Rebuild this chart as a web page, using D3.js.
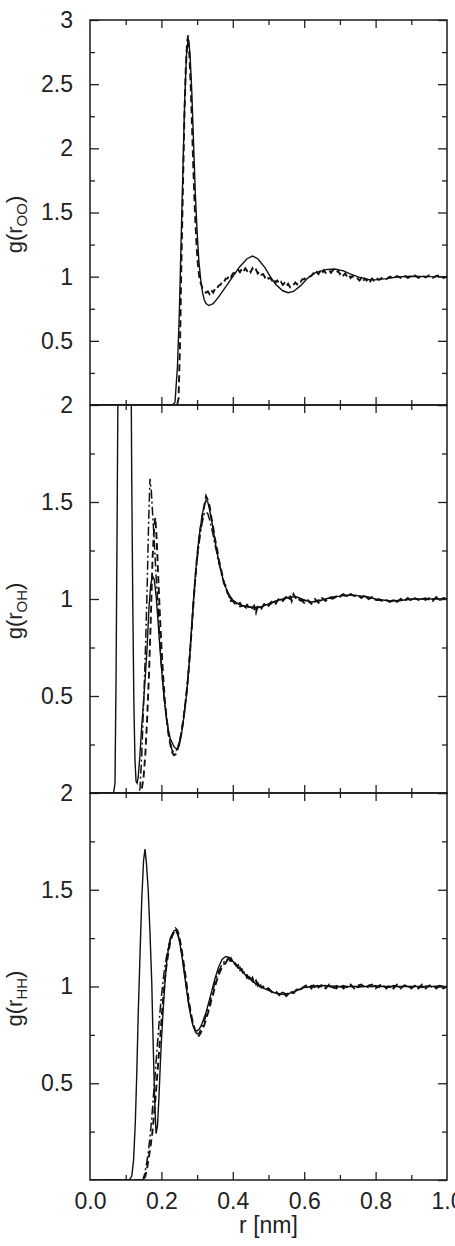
<!DOCTYPE html>
<meta charset="utf-8">
<style>
    body { margin: 0; background: #fff; }
    svg text { font-family: "Liberation Sans", Arial, sans-serif; fill: #222; }
    .tick line { stroke: #222; stroke-width: 1.3; }
    .curve { fill: none; stroke: #111; }
</style>
<svg width="455" height="1246"></svg>
<script src="https://d3js.org/d3.v7.min.js"></script>
<script>

    // x ticks
    var xMajor = [0, 0.2, 0.4, 0.6, 0.8, 1.0],
        xMinor = [0.1, 0.3, 0.5, 0.7, 0.9];

    // y tick labels per panel
    var ooLabels = [0.5, 1, 1.5, 2, 2.5, 3],
        ohLabels = [0.5, 1, 1.5, 2],
        hhLabels = [0.5, 1, 1.5, 2];

    // g(r_OO)
    var ooSolid = [[0.0,0],[0.23,0],[0.238,0.02],[0.245,0.3],[0.25,0.7],[0.255,1.25],[0.26,1.8],
        [0.265,2.35],[0.27,2.72],[0.275,2.86],[0.28,2.74],[0.285,2.45],[0.29,2.05],[0.295,1.65],
        [0.30,1.35],[0.305,1.12],[0.31,0.98],[0.315,0.88],[0.32,0.82],[0.325,0.79],[0.333,0.775],
        [0.345,0.79],[0.36,0.84],[0.38,0.92],[0.40,1.0],[0.42,1.08],[0.44,1.14],[0.455,1.16],
        [0.47,1.14],[0.49,1.07],[0.505,1.0],[0.52,0.94],[0.54,0.89],[0.555,0.875],[0.57,0.885],
        [0.59,0.93],[0.61,0.99],[0.63,1.03],[0.66,1.055],[0.685,1.06],[0.71,1.045],[0.73,1.02],
        [0.755,0.995],[0.78,0.978],[0.80,0.975],[0.83,0.985],[0.86,0.997],[0.9,1.003],[0.95,1.0],[1.0,1.0]];

    var ooDashed = [[0.0,0],[0.244,0],[0.248,0.05],[0.252,0.45],[0.256,1.1],[0.26,1.65],[0.264,2.2],
        [0.268,2.6],[0.272,2.83],[0.275,2.88],[0.278,2.75],[0.282,2.5],[0.286,2.15],[0.29,1.8],
        [0.294,1.5],[0.298,1.27],[0.302,1.1],[0.306,1.0],[0.31,0.95],[0.315,0.91],[0.32,0.89],
        [0.325,0.875],[0.33,0.885],[0.335,0.865],[0.34,0.895],[0.345,0.875],[0.35,0.905],[0.355,0.9],
        [0.36,0.93],[0.365,0.935],[0.37,0.96],[0.375,0.955],[0.38,0.985],[0.385,0.985],[0.39,1.01],
        [0.395,0.995],[0.40,1.025],[0.405,1.03],[0.41,1.035],[0.415,1.055],[0.42,1.035],[0.425,1.06],
        [0.43,1.04],[0.435,1.065],[0.44,1.045],[0.445,1.06],[0.45,1.035],[0.455,1.065],[0.46,1.04],
        [0.465,1.055],[0.47,1.025],[0.475,1.04],[0.48,1.015],[0.485,1.02],[0.49,0.995],[0.495,1.01],
        [0.50,0.985],[0.505,0.99],[0.51,0.97],[0.515,0.985],[0.52,0.955],[0.525,0.97],[0.53,0.945],
        [0.535,0.96],[0.54,0.935],[0.545,0.95],[0.55,0.925],[0.555,0.945],[0.56,0.92],[0.565,0.94],
        [0.57,0.935],[0.575,0.955],[0.58,0.94],[0.585,0.965],[0.59,0.96],[0.595,0.98],[0.60,0.98],
        [0.605,0.995],[0.61,0.995],[0.615,1.0],[0.62,1.005],[0.625,1.025],[0.63,1.01],[0.635,1.035],
        [0.64,1.02],[0.645,1.045],[0.65,1.025],[0.655,1.05],[0.66,1.03],[0.665,1.045],[0.67,1.05],
        [0.675,1.03],[0.68,1.05],[0.685,1.035],[0.69,1.03],[0.695,1.045],[0.70,1.02],[0.705,1.035],
        [0.71,1.01],[0.715,1.025],[0.72,1.0],[0.725,1.015],[0.73,0.99],[0.735,1.005],[0.74,0.985],
        [0.745,0.99],[0.75,0.985],[0.755,0.97],[0.76,0.99],[0.765,0.965],[0.77,0.985],[0.775,0.97],
        [0.78,0.99],[0.785,0.965],[0.79,0.985],[0.795,0.97],[0.80,0.99],[0.81,0.975],[0.82,0.995],
        [0.83,0.98],[0.84,1.0],[0.85,0.985],[0.86,1.005],[0.87,0.99],[0.88,1.01],[0.89,0.99],
        [0.90,1.005],[0.91,1.01],[0.92,0.99],[0.93,1.01],[0.94,0.995],[0.95,1.01],[0.96,0.99],
        [0.97,1.005],[0.98,1.01],[0.99,0.99],[1.0,1.0]];

    // g(r_OH)
    var ohSolid = [[0.0,0],[0.066,0],[0.07,0.05],[0.073,0.6],[0.076,1.4],[0.079,2.3],[0.083,4.5],
        [0.09,8],[0.097,9.5],[0.104,8],[0.11,4.5],[0.114,2.5],[0.117,1.6],[0.12,0.95],[0.123,0.45],
        [0.126,0.17],[0.129,0.06],[0.132,0.05],[0.135,0.08],[0.14,0.2],[0.145,0.35],[0.15,0.47],
        [0.155,0.6],[0.16,0.75],[0.165,0.95],[0.17,1.07],[0.175,1.12],[0.18,1.1],[0.185,1.02],
        [0.19,0.9],[0.195,0.77],[0.2,0.65],[0.205,0.54],[0.21,0.45],[0.215,0.38],[0.22,0.32],
        [0.225,0.28],[0.23,0.26],[0.235,0.24],[0.24,0.23],[0.245,0.23],[0.25,0.245],[0.255,0.29],
        [0.26,0.35],[0.265,0.42],[0.27,0.5],[0.275,0.6],[0.28,0.72],[0.285,0.86],[0.29,1.0],
        [0.295,1.12],[0.30,1.22],[0.305,1.31],[0.31,1.38],[0.315,1.44],[0.32,1.48],[0.325,1.51],
        [0.33,1.5],[0.335,1.46],[0.34,1.41],[0.345,1.36],[0.35,1.3],[0.355,1.25],[0.36,1.2],
        [0.365,1.16],[0.37,1.12],[0.38,1.06],[0.39,1.02],[0.40,0.995],[0.42,0.97],[0.44,0.96],
        [0.46,0.955],[0.48,0.96],[0.50,0.975],[0.52,0.99],[0.54,1.0],[0.56,1.01],[0.58,1.01],
        [0.60,0.995],[0.62,0.985],[0.64,0.99],[0.66,1.0],[0.68,1.01],[0.70,1.015],[0.72,1.02],
        [0.74,1.02],[0.76,1.015],[0.78,1.01],[0.80,1.0],[0.82,0.995],[0.84,0.99],[0.86,0.99],
        [0.88,0.995],[0.9,1.0],[1.0,1.0]];

    var ohDashDot = [[0.0,0],[0.135,0],[0.14,0.02],[0.145,0.2],[0.15,0.45],[0.155,0.72],[0.16,1.05],
        [0.164,1.38],[0.168,1.62],[0.172,1.55],[0.176,1.42],[0.18,1.3],[0.185,1.12],[0.19,0.98],
        [0.195,0.8],[0.2,0.66],[0.205,0.54],[0.21,0.45],[0.215,0.37],[0.22,0.31],[0.225,0.26],
        [0.23,0.22],[0.235,0.21],[0.24,0.215],[0.245,0.23],[0.25,0.26],[0.255,0.3],[0.26,0.36],
        [0.265,0.43],[0.27,0.51],[0.275,0.61],[0.28,0.73],[0.285,0.86],[0.29,0.99],[0.295,1.1],
        [0.30,1.2],[0.305,1.28],[0.31,1.35],[0.315,1.4],[0.32,1.44],[0.325,1.45],[0.33,1.44],
        [0.335,1.41],[0.34,1.37],[0.345,1.33],[0.35,1.28],[0.355,1.24],[0.36,1.19],[0.365,1.16],
        [0.37,1.11],[0.375,1.09],[0.38,1.05],[0.385,1.04],[0.39,1.01],[0.395,1.0],[0.40,0.985],
        [0.41,0.975],[0.42,0.96],[0.43,0.965],[0.44,0.95],[0.45,0.96],[0.46,0.945],[0.47,0.955],
        [0.48,0.96],[0.49,0.97],[0.50,0.965],[0.51,0.98],[0.52,0.985],[0.53,0.995],[0.54,1.0],
        [0.55,1.01],[0.56,1.0],[0.57,1.015],[0.58,1.005],[0.59,0.99],[0.60,0.995],[0.61,0.98],
        [0.62,0.99],[0.63,0.985],[0.64,0.995],[0.65,0.99],[0.66,1.0],[0.67,1.005],[0.68,1.0],
        [0.69,1.015],[0.70,1.01],[0.71,1.02],[0.72,1.015],[0.73,1.025],[0.74,1.015],[0.75,1.02],
        [0.76,1.01],[0.77,1.015],[0.78,1.0],[0.79,1.005],[0.80,0.995],[0.81,1.0],[0.82,0.99],
        [0.83,0.995],[0.84,0.985],[0.85,0.995],[0.86,0.99],[0.87,1.0],[0.88,0.99],[0.89,1.0],
        [0.90,0.995],[0.91,1.005],[0.92,0.995],[0.93,1.0],[0.94,1.005],[0.95,0.995],[0.96,1.0],
        [0.97,1.005],[0.98,0.995],[0.99,1.0],[1.0,1.0]];

    var ohDashed = [[0.0,0],[0.14,0],[0.145,0.02],[0.15,0.08],[0.155,0.2],[0.16,0.38],[0.165,0.6],
        [0.17,0.88],[0.175,1.2],[0.18,1.38],[0.183,1.42],[0.187,1.3],[0.191,1.12],[0.195,0.95],
        [0.2,0.76],[0.205,0.6],[0.21,0.47],[0.215,0.38],[0.22,0.3],[0.225,0.25],[0.23,0.21],
        [0.235,0.195],[0.24,0.2],[0.245,0.22],[0.25,0.26],[0.255,0.3],[0.26,0.36],[0.265,0.43],
        [0.27,0.51],[0.275,0.6],[0.28,0.72],[0.285,0.85],[0.29,0.98],[0.295,1.11],[0.30,1.22],
        [0.305,1.3],[0.31,1.37],[0.315,1.43],[0.32,1.48],[0.325,1.53],[0.33,1.51],[0.335,1.48],
        [0.34,1.42],[0.345,1.37],[0.35,1.31],[0.355,1.27],[0.36,1.21],[0.365,1.17],[0.37,1.13],
        [0.375,1.08],[0.38,1.07],[0.385,1.03],[0.39,1.02],[0.395,0.99],[0.40,0.99],[0.41,0.965],
        [0.42,0.98],[0.43,0.95],[0.44,0.97],[0.45,0.945],[0.46,0.965],[0.465,0.93],[0.47,0.965],
        [0.48,0.95],[0.49,0.98],[0.50,0.965],[0.51,0.99],[0.52,0.975],[0.53,1.005],[0.54,0.99],
        [0.55,1.01],[0.56,1.02],[0.565,0.99],[0.57,1.025],[0.58,0.995],[0.59,1.0],[0.60,0.98],
        [0.61,0.995],[0.62,0.975],[0.63,1.0],[0.64,0.98],[0.65,1.005],[0.66,0.99],[0.67,1.01],
        [0.68,1.005],[0.69,1.01],[0.70,1.015],[0.71,1.025],[0.72,1.01],[0.73,1.025],[0.74,1.015],
        [0.75,1.02],[0.76,1.005],[0.77,1.02],[0.78,1.0],[0.79,1.01],[0.80,0.995],[0.81,0.995],
        [0.82,0.99],[0.83,0.995],[0.84,0.985],[0.85,0.995],[0.86,0.985],[0.87,1.0],[0.88,0.99],
        [0.89,1.005],[0.90,0.99],[0.91,1.005],[0.92,0.995],[0.93,1.005],[0.94,0.995],[0.95,1.005],
        [0.96,0.99],[0.97,1.01],[0.98,0.995],[0.99,1.005],[1.0,1.0]];

    // g(r_HH)
    var hhSolid = [[0.0,0],[0.11,0],[0.117,0.02],[0.122,0.1],[0.127,0.3],[0.131,0.55],[0.135,0.85],
        [0.14,1.16],[0.145,1.45],[0.15,1.65],[0.154,1.71],[0.158,1.64],[0.163,1.5],[0.168,1.28],
        [0.173,1.02],[0.177,0.7],[0.181,0.42],[0.185,0.24],[0.189,0.28],[0.193,0.42],[0.197,0.6],
        [0.2,0.72],[0.205,0.88],[0.21,1.02],[0.215,1.13],[0.22,1.2],[0.225,1.25],[0.23,1.27],
        [0.236,1.29],[0.241,1.29],[0.246,1.27],[0.252,1.22],[0.258,1.15],[0.264,1.07],[0.27,0.99],
        [0.276,0.91],[0.282,0.85],[0.288,0.8],[0.294,0.775],[0.3,0.77],[0.306,0.78],[0.312,0.8],
        [0.318,0.83],[0.324,0.86],[0.33,0.9],[0.34,0.97],[0.35,1.04],[0.36,1.1],[0.37,1.14],
        [0.38,1.155],[0.39,1.15],[0.40,1.13],[0.41,1.11],[0.42,1.09],[0.44,1.05],[0.46,1.02],
        [0.48,0.995],[0.50,0.98],[0.52,0.965],[0.54,0.96],[0.56,0.965],[0.58,0.98],[0.60,0.995],
        [0.62,1.0],[0.65,1.005],[0.70,1.0],[1.0,1.0]];

    var hhDashed = [[0.0,0],[0.15,0],[0.155,0.02],[0.16,0.06],[0.165,0.12],[0.17,0.18],[0.175,0.25],
        [0.18,0.35],[0.185,0.46],[0.19,0.58],[0.195,0.7],[0.2,0.82],[0.205,0.94],[0.21,1.04],
        [0.215,1.12],[0.22,1.18],[0.225,1.23],[0.23,1.26],[0.235,1.28],[0.24,1.3],[0.245,1.29],
        [0.25,1.26],[0.255,1.21],[0.26,1.15],[0.265,1.09],[0.27,1.02],[0.275,0.95],[0.28,0.89],
        [0.285,0.84],[0.29,0.8],[0.295,0.77],[0.30,0.75],[0.305,0.745],[0.31,0.76],[0.315,0.78],
        [0.32,0.8],[0.325,0.83],[0.33,0.86],[0.335,0.89],[0.34,0.93],[0.345,0.96],[0.35,1.0],
        [0.355,1.03],[0.36,1.06],[0.365,1.08],[0.37,1.1],[0.375,1.115],[0.38,1.12],[0.385,1.14],
        [0.39,1.125],[0.395,1.145],[0.40,1.125],[0.405,1.13],[0.41,1.105],[0.415,1.11],[0.42,1.085],
        [0.425,1.09],[0.43,1.065],[0.435,1.07],[0.44,1.045],[0.445,1.05],[0.45,1.03],[0.455,1.045],
        [0.46,1.015],[0.465,1.03],[0.47,1.005],[0.475,1.02],[0.48,0.995],[0.485,1.0],[0.49,0.985],
        [0.50,0.99],[0.51,0.97],[0.52,0.975],[0.53,0.955],[0.54,0.97],[0.55,0.95],[0.56,0.97],
        [0.57,0.965],[0.58,0.985],[0.59,0.985],[0.60,1.0],[0.61,1.01],[0.62,0.99],[0.63,1.015],
        [0.64,0.995],[0.65,1.01],[0.66,0.99],[0.67,1.01],[0.68,0.995],[0.69,0.99],[0.70,1.01],
        [0.71,0.99],[0.72,1.005],[0.73,1.01],[0.74,0.99],[0.75,1.005],[0.76,1.01],[0.77,0.99],
        [0.78,1.005],[0.79,1.01],[0.80,0.99],[0.81,1.005],[0.82,1.01],[0.83,0.99],[0.84,1.005],
        [0.85,0.99],[0.86,1.01],[0.87,0.99],[0.88,1.005],[0.89,1.01],[0.90,0.99],[0.91,1.005],
        [0.92,0.99],[0.93,1.01],[0.94,0.99],[0.95,1.005],[0.96,1.01],[0.97,0.99],[0.98,1.005],
        [0.99,0.99],[1.0,1.0]];

    var hhDashDot = [[0.0,0],[0.148,0],[0.153,0.03],[0.158,0.08],[0.163,0.14],[0.168,0.22],
        [0.173,0.32],[0.178,0.44],[0.183,0.56],[0.188,0.68],[0.193,0.8],[0.198,0.91],[0.203,1.0],
        [0.208,1.08],[0.213,1.14],[0.218,1.19],[0.223,1.23],[0.228,1.26],[0.234,1.28],[0.24,1.285],
        [0.246,1.27],[0.252,1.23],[0.258,1.16],[0.264,1.08],[0.27,1.0],[0.276,0.92],[0.282,0.86],
        [0.288,0.81],[0.294,0.77],[0.3,0.755],[0.306,0.76],[0.312,0.785],[0.318,0.81],[0.324,0.845],
        [0.33,0.88],[0.335,0.91],[0.34,0.95],[0.345,0.985],[0.35,1.02],[0.355,1.05],[0.36,1.08],
        [0.365,1.095],[0.37,1.115],[0.375,1.125],[0.38,1.14],[0.385,1.135],[0.39,1.145],[0.395,1.13],
        [0.40,1.135],[0.405,1.115],[0.41,1.115],[0.415,1.095],[0.42,1.1],[0.425,1.075],[0.43,1.08],
        [0.435,1.055],[0.44,1.06],[0.445,1.04],[0.45,1.045],[0.455,1.025],[0.46,1.03],[0.465,1.01],
        [0.47,1.02],[0.475,1.0],[0.48,1.005],[0.49,0.985],[0.50,0.99],[0.51,0.97],[0.52,0.975],
        [0.53,0.96],[0.54,0.97],[0.55,0.96],[0.56,0.97],[0.57,0.975],[0.58,0.985],[0.59,0.985],
        [0.60,1.0],[0.61,0.995],[0.62,1.005],[0.63,0.995],[0.64,1.01],[0.65,0.995],[0.66,1.005],
        [0.67,1.0],[0.68,0.995],[0.69,1.005],[0.70,0.995],[0.71,1.005],[0.72,0.995],[0.73,1.0],
        [0.74,1.005],[0.75,0.995],[0.76,1.0],[0.77,1.005],[0.78,0.995],[0.79,1.0],[0.80,1.005],
        [0.81,0.995],[0.82,1.0],[0.83,1.005],[0.84,0.995],[0.85,1.005],[0.86,1.0],[0.87,0.995],
        [0.88,1.005],[0.89,1.0],[0.90,0.995],[0.91,1.005],[0.92,1.0],[0.93,0.995],[0.94,1.0],
        [0.95,1.005],[0.96,0.995],[0.97,1.0],[0.98,1.005],[0.99,1.0],[1.0,1.0]];

    var svg = d3.select("svg"),
        left = 90, right = 447;

    var x = d3.scaleLinear().domain([0, 1]).range([left, right]);

    var styles = {
        solid: {dash: null, width: 1.4},
        dashed: {dash: "7,4", width: 1.9},
        dashdot: {dash: "9,3,2,3", width: 1.5}
    };

    var panels = [
        {top: 20, bottom: 405, max: 3, labels: ooLabels, sub: "OO",
            series: [[ooSolid, "solid"], [ooDashed, "dashed"]]},
        {top: 405, bottom: 793, max: 2, labels: ohLabels, sub: "OH",
            series: [[ohSolid, "solid"], [ohDashDot, "dashdot"], [ohDashed, "dashed"]]},
        {top: 793, bottom: 1180, max: 2, labels: hhLabels, sub: "HH",
            series: [[hhSolid, "solid"], [hhDashDot, "dashdot"], [hhDashed, "dashed"]]}
    ];

    panels.forEach(function (p, i) {
        var y = d3.scaleLinear().domain([0, p.max]).range([p.bottom, p.top]);
        var g = svg.append("g");
        var minorY = d3.range(0.25, p.max, 0.5);

        // clip
        g.append("clipPath").attr("id", "clip" + i)
            .append("rect")
            .attr("x", left).attr("y", p.top)
            .attr("width", right - left).attr("height", p.bottom - p.top);

        // curves
        var line = d3.line()
            .x(function (d) { return x(d[0]); })
            .y(function (d) { return y(d[1]); });

        p.series.forEach(function (s) {
            var st = styles[s[1]];
            g.append("path")
                .attr("class", "curve")
                .attr("clip-path", "url(#clip" + i + ")")
                .attr("d", line(s[0]))
                .attr("stroke-width", st.width)
                .attr("stroke-dasharray", st.dash);
        });

        // y axes: left with labels, right mirror
        g.append("g").attr("transform", "translate(" + left + ",0)")
            .call(d3.axisLeft(y).tickValues(p.labels).tickSize(-9).tickPadding(17)
                .tickFormat(d3.format("")))
            .call(function (a) { a.select(".domain").remove(); })
            .selectAll("text").attr("font-size", 23);
        g.append("g").attr("transform", "translate(" + left + ",0)")
            .call(d3.axisLeft(y).tickValues(minorY).tickSize(-5).tickFormat(""))
            .call(function (a) { a.select(".domain").remove(); });
        g.append("g").attr("transform", "translate(" + right + ",0)")
            .call(d3.axisRight(y).tickValues(p.labels.concat([0])).tickSize(-9).tickFormat(""))
            .call(function (a) { a.select(".domain").remove(); });
        g.append("g").attr("transform", "translate(" + right + ",0)")
            .call(d3.axisRight(y).tickValues(minorY).tickSize(-5).tickFormat(""))
            .call(function (a) { a.select(".domain").remove(); });

        // x ticks top and bottom
        [[d3.axisTop, p.top], [d3.axisBottom, p.bottom]].forEach(function (t) {
            g.append("g").attr("transform", "translate(0," + t[1] + ")")
                .call(t[0](x).tickValues(xMajor.slice(1, -1)).tickSize(-8).tickFormat(""))
                .call(function (a) { a.select(".domain").remove(); });
            g.append("g").attr("transform", "translate(0," + t[1] + ")")
                .call(t[0](x).tickValues(xMinor).tickSize(-5).tickFormat(""))
                .call(function (a) { a.select(".domain").remove(); });
        });

        // frame
        g.append("rect")
            .attr("x", left).attr("y", p.top)
            .attr("width", right - left).attr("height", p.bottom - p.top)
            .attr("fill", "none").attr("stroke", "#1a1a1a").attr("stroke-width", 1.5);

        // y title
        var cy = (p.top + p.bottom) / 2 + 12;
        var title = g.append("text")
            .attr("transform", "translate(22," + cy + ") rotate(-90)")
            .attr("text-anchor", "middle")
            .attr("font-size", 22);
        title.append("tspan").text("g(r");
        title.append("tspan").attr("font-size", 15).attr("dy", 5).text(p.sub);
        title.append("tspan").attr("dy", -5).text(")");
    });

    // x axis labels under last panel
    svg.append("g").attr("transform", "translate(0,1180)")
        .call(d3.axisBottom(x).tickValues(xMajor).tickSize(0).tickPadding(13)
            .tickFormat(d3.format(".1f")))
        .call(function (a) { a.select(".domain").remove(); })
        .selectAll("text").attr("font-size", 23);

    svg.append("text")
        .attr("x", (left + right) / 2)
        .attr("y", 1233)
        .attr("text-anchor", "middle")
        .attr("font-size", 23)
        .text("r [nm]");
</script>
